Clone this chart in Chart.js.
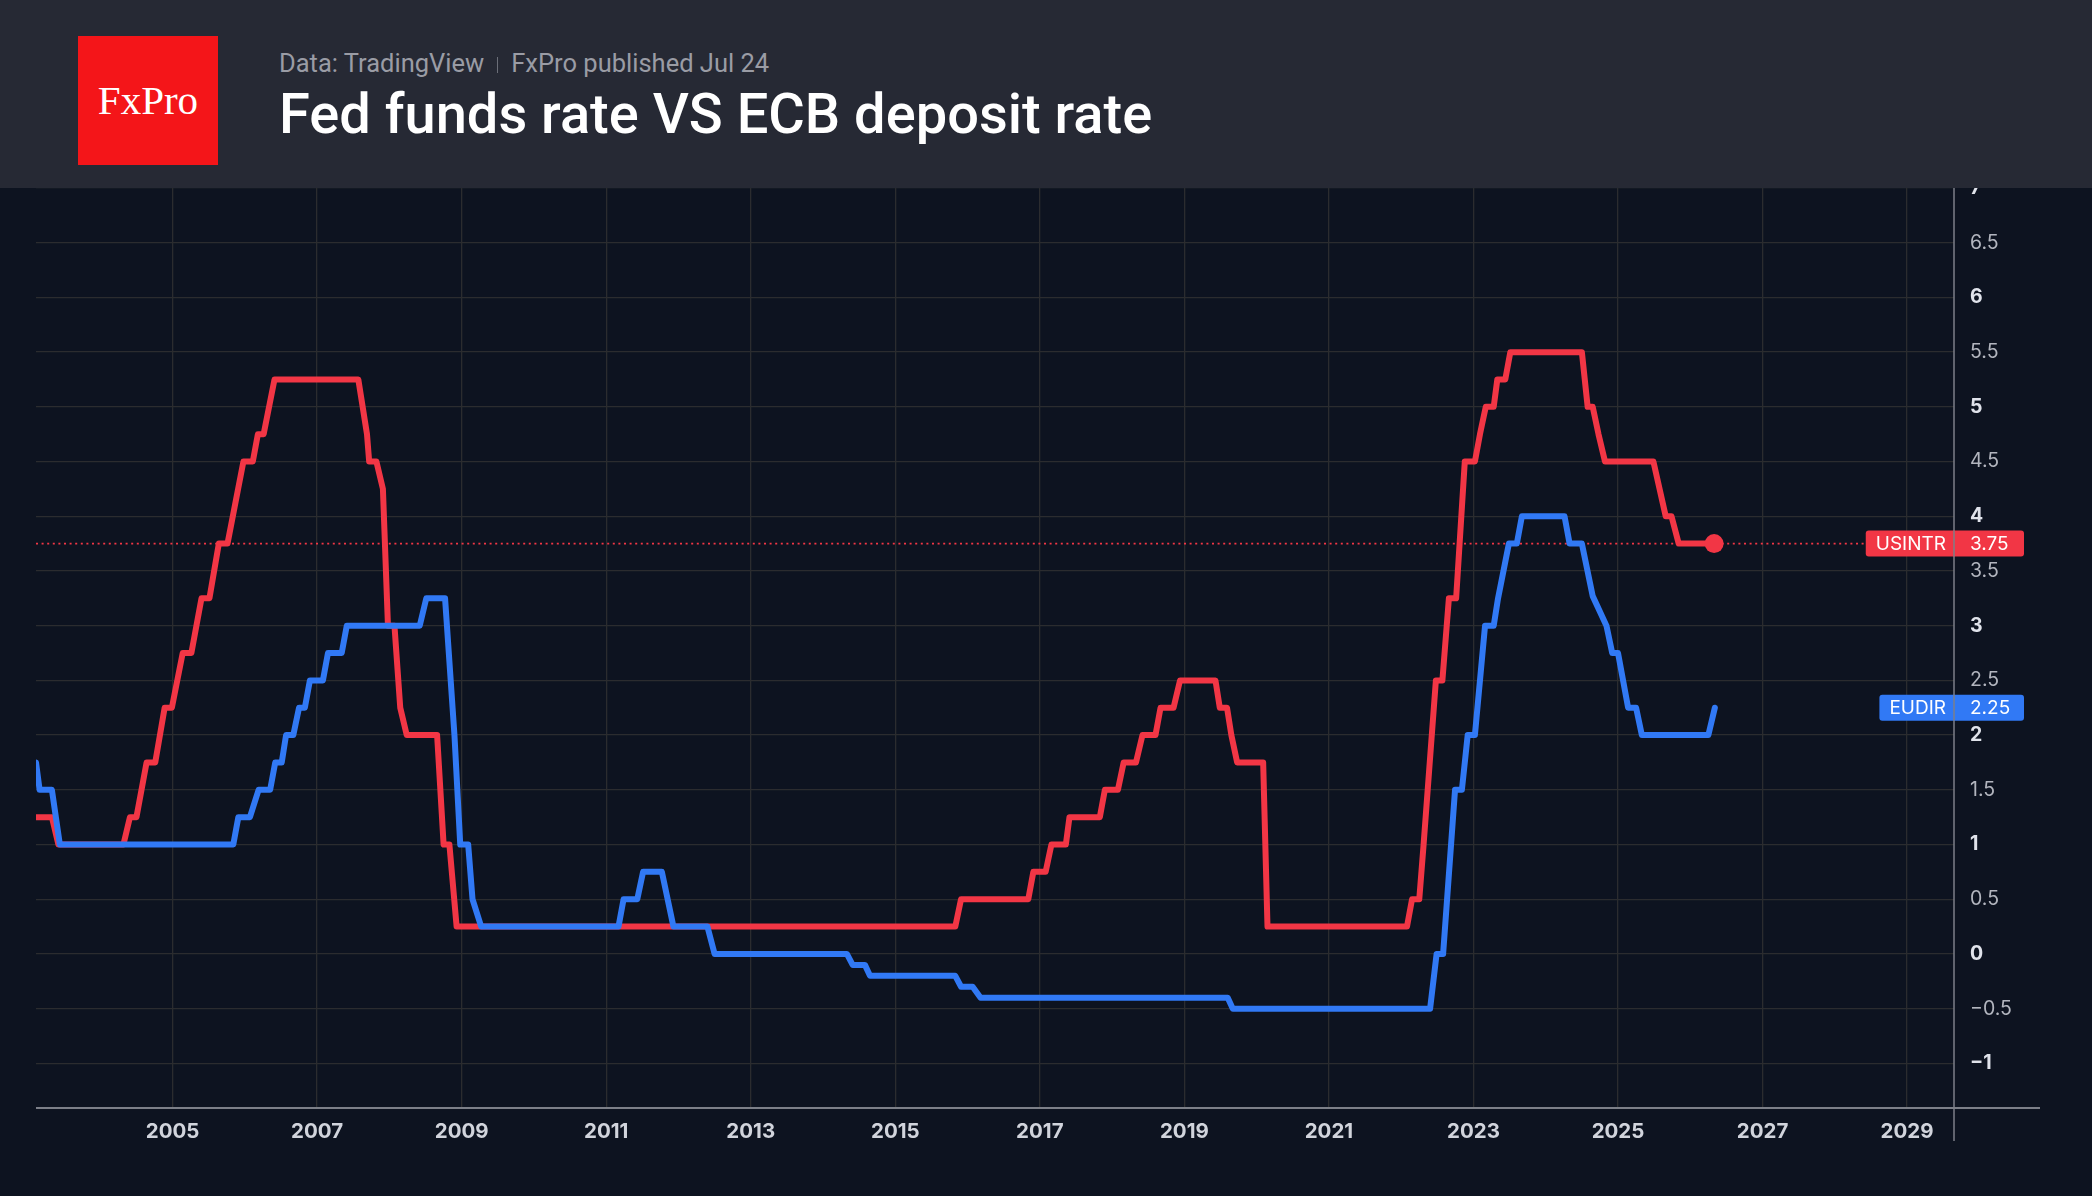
<!DOCTYPE html>
<html>
<head>
<meta charset="utf-8">
<title>Fed funds rate VS ECB deposit rate</title>
<script src="https://cdn.jsdelivr.net/npm/chart.js@4.4.1/dist/chart.umd.min.js"></script>
<style>
  html, body { margin: 0; padding: 0; background: #0d1320; }
  #wrap { position: relative; width: 2092px; height: 1196px; overflow: hidden; background: #0d1320; }
  #chart { position: absolute; left: 0; top: 0; }
  #header { position: absolute; left: 0; top: 0; width: 2092px; height: 188px; background: #262934; z-index: 2; }
  #logo { position: absolute; left: 78px; top: 36px; width: 140px; height: 129px; background: #f41519;
          color: #fff; font-family: "Liberation Serif", serif; font-size: 41px; line-height: 129px; text-align: center; }
  #sub { position: absolute; left: 279px; top: 51px; font-family: Roboto, sans-serif; font-size: 25.5px; line-height: 25px;
         color: #9a9ca5; white-space: nowrap; }
  #sub .sep { display: inline-block; width: 1px; height: 16px; background: #6b6e78; margin: 0 13px; vertical-align: -1px; }
  #title { position: absolute; left: 279px; top: 86px; font-family: Roboto, sans-serif; font-weight: 500; font-size: 56px;
           line-height: 56px; color: #ffffff; white-space: nowrap; }
</style>
</head>
<body>
<div id="wrap">
  <canvas id="chart" width="2092" height="1196"></canvas>
  <div id="header">
    <div id="logo">FxPro</div>
    <div id="sub">Data: TradingView<span class="sep"></span>FxPro published Jul 24</div>
    <div id="title">Fed funds rate VS ECB deposit rate</div>
  </div>
</div>
<script>
// Fed funds rate (USINTR), breakpoints (decimal years)
const usDates = [2003.00, 2003.33, 2003.42, 2004.32, 2004.41, 2004.50, 2004.64, 2004.76, 2004.89, 2004.99,
  2005.14, 2005.26, 2005.40, 2005.51, 2005.64, 2005.76, 2005.98, 2006.11, 2006.18, 2006.26,
  2006.41, 2007.57, 2007.69, 2007.72, 2007.82, 2007.91, 2007.98, 2008.07, 2008.15, 2008.24,
  2008.66, 2008.75, 2008.83, 2008.93, 2015.83, 2015.91, 2016.84, 2016.91, 2017.08, 2017.16,
  2017.36, 2017.41, 2017.83, 2017.90, 2018.08, 2018.16, 2018.33, 2018.42, 2018.60, 2018.67,
  2018.85, 2018.94, 2019.43, 2019.49, 2019.59, 2019.65, 2019.73, 2020.09, 2020.15, 2022.08,
  2022.15, 2022.25, 2022.31, 2022.48, 2022.57, 2022.66, 2022.76, 2022.88, 2023.02, 2023.09,
  2023.17, 2023.28, 2023.33, 2023.44, 2023.51, 2024.50, 2024.58, 2024.65, 2024.73, 2024.82,
  2025.49, 2025.66, 2025.74, 2025.84, 2026.33];
const usRates = [1.25, 1.25, 1.0, 1.0, 1.25, 1.25, 1.75, 1.75, 2.25, 2.25,
  2.75, 2.75, 3.25, 3.25, 3.75, 3.75, 4.5, 4.5, 4.75, 4.75,
  5.25, 5.25, 4.75, 4.5, 4.5, 4.25, 3.0, 3.0, 2.25, 2.0,
  2.0, 1.0, 1.0, 0.25, 0.25, 0.5, 0.5, 0.75, 0.75, 1.0,
  1.0, 1.25, 1.25, 1.5, 1.5, 1.75, 1.75, 2.0, 2.0, 2.25,
  2.25, 2.5, 2.5, 2.25, 2.25, 2.0, 1.75, 1.75, 0.25, 0.25,
  0.5, 0.5, 1.0, 2.5, 2.5, 3.25, 3.25, 4.5, 4.5, 4.75,
  5.0, 5.0, 5.25, 5.25, 5.5, 5.5, 5.0, 5.0, 4.75, 4.5,
  4.5, 4.0, 4.0, 3.75, 3.75];

// ECB deposit rate (EUDIR)
const euDates = [2003.11, 2003.16, 2003.33, 2003.44, 2005.84, 2005.91, 2006.07, 2006.19, 2006.35, 2006.42,
  2006.51, 2006.57, 2006.67, 2006.75, 2006.83, 2006.90, 2007.08, 2007.15, 2007.34, 2007.41,
  2008.42, 2008.51, 2008.77, 2008.90, 2008.98, 2009.09, 2009.15, 2009.27, 2011.17, 2011.24,
  2011.43, 2011.51, 2011.77, 2011.93, 2012.40, 2012.50, 2014.33, 2014.41, 2014.58, 2014.65,
  2015.83, 2015.91, 2016.07, 2016.18, 2019.60, 2019.67, 2022.40, 2022.49, 2022.58, 2022.745,
  2022.84, 2022.92, 2023.02, 2023.16, 2023.28, 2023.34, 2023.49, 2023.60, 2023.67, 2024.26,
  2024.33, 2024.50, 2024.65, 2024.84, 2024.92, 2025.00, 2025.14, 2025.25, 2025.33, 2026.25,
  2026.34];
const euRates = [1.75, 1.5, 1.5, 1.0, 1.0, 1.25, 1.25, 1.5, 1.5, 1.75,
  1.75, 2.0, 2.0, 2.25, 2.25, 2.5, 2.5, 2.75, 2.75, 3.0,
  3.0, 3.25, 3.25, 2.0, 1.0, 1.0, 0.5, 0.25, 0.25, 0.5,
  0.5, 0.75, 0.75, 0.25, 0.25, 0.0, 0.0, -0.1, -0.1, -0.2,
  -0.2, -0.3, -0.3, -0.4, -0.4, -0.5, -0.5, 0.0, 0.0, 1.5,
  1.5, 2.0, 2.0, 3.0, 3.0, 3.25, 3.75, 3.75, 4.0, 4.0,
  3.75, 3.75, 3.27, 3.0, 2.75, 2.75, 2.25, 2.25, 2.0, 2.0,
  2.25];

// axis ticks
const yearTicks = [2005, 2007, 2009, 2011, 2013, 2015, 2017, 2019, 2021, 2023, 2025, 2027, 2029];
const rateTicks = [-1, -0.5, 0, 0.5, 1, 1.5, 2, 2.5, 3, 3.5, 4, 4.5, 5, 5.5, 6, 6.5, 7];

const RED = '#f23645';
const BLUE = '#3179f5';
const GRID = '#2b2c2f';
const AXIS = '#7c7f88';
const FONT = 'Inter, "Noto Sans", sans-serif';

const toPoints = (xs, ys) => xs.map((x, i) => ({ x: x, y: ys[i] }));
const fmt = v => (v < 0 ? '\u2212' : '') + Math.abs(v);
const isWhole = c => !!(c.tick && Number.isInteger(c.tick.value));

// price tag on the right axis
function tagBox(chart, name, value, color) {
  const ctx = chart.ctx;
  const right = chart.chartArea.right;
  const y = chart.scales.y.getPixelForValue(value);
  ctx.save();
  ctx.font = '19px ' + FONT;
  const w = ctx.measureText(name).width;
  ctx.restore();
  const left = right - 8 - w - 10;
  return { left: left, y: y, draw() {
    ctx.save();
    ctx.fillStyle = color;
    ctx.beginPath();
    ctx.roundRect(left, y - 13, right + 70 - left, 26, 3);
    ctx.fill();
    ctx.fillStyle = '#ffffff';
    ctx.font = '19px ' + FONT;
    ctx.textBaseline = 'middle';
    ctx.textAlign = 'right';
    ctx.fillText(name, right - 8, y + 1);
    ctx.textAlign = 'left';
    ctx.fillText(value.toFixed(2), right + 16, y + 1);
    // axis line passes through the tag
    ctx.strokeStyle = AXIS;
    ctx.lineWidth = 1.5;
    ctx.beginPath();
    ctx.moveTo(right, y - 13);
    ctx.lineTo(right, y + 13);
    ctx.stroke();
    ctx.restore();
  } };
}

const overlay = {
  id: 'overlay',
  beforeDatasetsDraw(chart) {
    const { ctx, chartArea } = chart;
    const tag = tagBox(chart, 'USINTR', usRates[usRates.length - 1], RED);
    ctx.save();
    ctx.strokeStyle = RED;
    ctx.lineWidth = 1.6;
    ctx.setLineDash([2, 3.6]);
    ctx.beginPath();
    ctx.moveTo(chartArea.left, tag.y);
    ctx.lineTo(tag.left - 2, tag.y);
    ctx.stroke();
    ctx.restore();
  },
  afterDraw(chart) {
    const { ctx, chartArea } = chart;
    ctx.save();
    ctx.strokeStyle = AXIS;
    ctx.lineWidth = 2;
    ctx.beginPath();
    ctx.moveTo(chartArea.left, chartArea.bottom);
    ctx.lineTo(2040, chartArea.bottom);
    ctx.stroke();
    ctx.lineWidth = 1.5;
    ctx.beginPath();
    ctx.moveTo(chartArea.right, 0);
    ctx.lineTo(chartArea.right, chartArea.bottom + 33);
    ctx.stroke();
    ctx.restore();
    tagBox(chart, 'USINTR', usRates[usRates.length - 1], RED).draw();
    tagBox(chart, 'EUDIR', euRates[euRates.length - 1], BLUE).draw();
  }
};

new Chart(document.getElementById('chart'), {
  type: 'line',
  data: {
    datasets: [
      {
        label: 'EUDIR',
        data: toPoints(euDates, euRates),
        borderColor: BLUE,
        borderWidth: 6,
        pointRadius: 0,
        tension: 0,
        borderJoinStyle: 'round',
        borderCapStyle: 'round',
        clip: 0
      },
      {
        label: 'USINTR',
        data: toPoints(usDates, usRates),
        borderColor: RED,
        backgroundColor: RED,
        borderWidth: 6,
        pointRadius: c => (c.dataIndex === usDates.length - 1 ? 9.5 : 0),
        pointBorderWidth: 0,
        tension: 0,
        borderJoinStyle: 'round',
        borderCapStyle: 'round',
        clip: 0
      }
    ]
  },
  options: {
    responsive: false,
    animation: false,
    layout: { padding: { left: 36, top: 188, right: 0, bottom: 0 } },
    plugins: { legend: { display: false }, tooltip: { enabled: false } },
    scales: {
      x: {
        type: 'linear',
        min: 2003.11,
        max: 2029.649,
        afterBuildTicks: s => { s.ticks = yearTicks.map(v => ({ value: v })); },
        afterFit: s => { s.height = 88; },
        grid: { color: GRID, lineWidth: 1.3, drawTicks: false },
        border: { display: false },
        ticks: {
          padding: 12,
          color: '#d1d4dc',
          font: { family: FONT, size: 20.5, weight: 'bold' },
          callback: v => String(v),
          maxRotation: 0,
          autoSkip: false
        }
      },
      y: {
        position: 'right',
        min: -1.408,
        max: 7,
        afterBuildTicks: s => { s.ticks = rateTicks.map(v => ({ value: v })); },
        afterFit: s => { s.width = 138; },
        grid: { color: GRID, lineWidth: 1.3, drawTicks: false },
        border: { display: false },
        ticks: {
          padding: 16,
          color: c => (isWhole(c) ? '#e0e3eb' : '#b2b5be'),
          font: c => ({ family: FONT, size: 19.5, weight: isWhole(c) ? 'bold' : 'normal' }),
          callback: v => fmt(v),
          autoSkip: false
        }
      }
    }
  },
  plugins: [overlay]
});
</script>
</body>
</html>
